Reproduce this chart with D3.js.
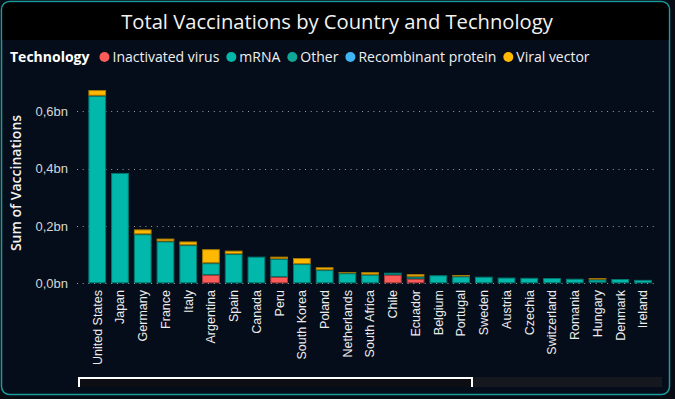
<!DOCTYPE html>
<html><head><meta charset="utf-8">
<script src="https://cdn.jsdelivr.net/npm/d3@7/dist/d3.min.js"></script>
<style>
html,body{margin:0;padding:0;background:#080c14;}
svg{display:block;font-family:"Segoe UI","Open Sans","Noto Sans",sans-serif;}
</style></head>
<body><svg id="c" width="675" height="399"></svg>
<script>
// ---- data (values in millions of doses) ----
const countries = ["United States","Japan","Germany","France","Italy","Argentina","Spain","Canada","Peru","South Korea","Poland","Netherlands","South Africa","Chile","Ecuador","Belgium","Portugal","Sweden","Austria","Czechia","Switzerland","Romania","Hungary","Denmark","Ireland"];
const technologies = ["Inactivated virus","mRNA","Other","Recombinant protein","Viral vector"];
const inactivatedVirus = [0,0,0,0,0,29,0,0,22,0,0,0,0,29,16,0,0,0,0,0,0,0,2,0,0];
const mRNA = [654,385,171,146,133,41,102,93,63,67,46,35,30,8,7,28,24,23,20,19,18.5,16,11,15,12];
const other = [0,0,0,0,0,0,0,0,0,0,0,0,0,0,0,0,0,0,0,0,0,0,0,0,0];
const recombinantProtein = [0,0,0,0,0,0,0,0,0,0,0,0,0,0,0,0,0,0,0,0,0,0,0,0,0];
const viralVector = [20,0,17,10,13,49,12,3,8,21,10,4,9,0,9,3,5,1,2,2,0,3,5,0,2];
const yTicks = [0, 0.2e9, 0.4e9, 0.6e9];
const colors = ["#FD5A5A","#01B8AA","#0FA897","#3EB6F5","#FFB900"];

const series = [inactivatedVirus, mRNA, other, recombinantProtein, viralVector];
const rows = countries.map((c,i)=>{
  const r = {country:c};
  technologies.forEach((t,k)=> r[t] = series[k][i]*1e6);
  return r;
});

const svg = d3.select("#c");
const W = 675, H = 399;

// card
svg.append("rect").attr("x",1.5).attr("y",1.5).attr("width",668).attr("height",393)
  .attr("rx",8).attr("fill","#050d1a").attr("stroke","#1b9c9c").attr("stroke-width",1.5);
svg.append("path").attr("d","M2.5,40 V10 Q2.5,2.5 10,2.5 H661 Q668.5,2.5 668.5,10 V40 Z").attr("fill","#000");

// title
const title = svg.append("text").attr("x",337).attr("y",29).attr("text-anchor","middle")
  .attr("fill","#f2f2f2").attr("font-size",20).text("Total Vaccinations by Country and Technology");
const tw = title.node().getComputedTextLength();
title.attr("font-size", 20*432/tw);

// legend
const lg = svg.append("g").attr("transform","translate(0,57)");
const lt = lg.append("text").attr("x",10).attr("y",5).attr("fill","#fff").attr("font-weight","bold")
  .attr("font-size",14).text("Technology");
let lx = 10 + lt.node().getComputedTextLength() + 10;
technologies.forEach((t,k)=>{
  lg.append("circle").attr("cx",lx+5).attr("cy",0).attr("r",5).attr("fill",colors[k]);
  const tx = lg.append("text").attr("x",lx+13).attr("y",5).attr("fill","#f0f0f0").attr("font-size",14).text(t);
  lx += 13 + tx.node().getComputedTextLength() + 7;
});

// scales
const x = d3.scaleBand().domain(countries).range([77, 663.2]).paddingInner(0.22).paddingOuter(0.5);
const y = d3.scaleLinear().domain([0, 0.7e9]).range([283.3, 82.6]);

// grid
const grid = svg.append("g");
yTicks.filter(v=>v>0).forEach(v=>{
  grid.append("line").attr("x1",77).attr("x2",658).attr("y1",Math.round(y(v))+0.5).attr("y2",Math.round(y(v))+0.5)
    .attr("stroke","#9aa0a8").attr("stroke-width",1).attr("stroke-dasharray","1,4.7");
});

// y axis labels
const yAxis = d3.axisLeft(y).tickValues(yTicks).tickSize(0).tickPadding(0)
  .tickFormat(v=> (v/1e9).toFixed(1).replace(".",",")+"bn");
const ya = svg.append("g").attr("transform","translate(68,0)").call(yAxis);
ya.select(".domain").remove();
ya.selectAll("text").attr("fill","#d6d6d6").attr("font-size",13).attr("font-family",null).attr("dy","0.32em");

svg.append("text").attr("transform","translate(21,183) rotate(-90)").attr("text-anchor","middle")
  .attr("fill","#f2f2f2").attr("font-size",14).attr("font-weight","600").text("Sum of Vaccinations");

// bars
const stack = d3.stack().keys(technologies)(rows);
svg.append("g").selectAll("g").data(stack).join("g")
  .attr("fill",(d,i)=>colors[i])
  .attr("stroke",(d,i)=>d3.color(colors[i]).darker(1.2))
  .selectAll("rect").data(d=>d.filter(s=>s[1]-s[0]>0)).join("rect")
  .attr("x",d=>x(d.data.country)+0.5).attr("width",x.bandwidth()-1)
  .attr("y",d=>y(d[1])+0.5).attr("height",d=>Math.max(0,y(d[0])-y(d[1])-1))
  .attr("stroke-width",1);

// zero grid line on top
svg.append("line").attr("x1",77).attr("x2",658).attr("y1",Math.round(y(0))+0.5).attr("y2",Math.round(y(0))+0.5)
  .attr("stroke","#9aa0a8").attr("stroke-width",1).attr("stroke-dasharray","1,4.7");

// x axis labels
const xAxis = d3.axisBottom(x).tickSize(0).tickPadding(0);
const xa = svg.append("g").attr("transform","translate(0,290)").call(xAxis);
xa.select(".domain").remove();
xa.selectAll("text").attr("fill","#ececec").attr("font-size",12.5).attr("font-family",null)
  .attr("transform","rotate(-90)").attr("text-anchor","end").attr("x",0).attr("y",0).attr("dy","0.35em").attr("dx",0);

// scrollbar
svg.append("rect").attr("x",78).attr("y",377).attr("width",584).attr("height",10).attr("fill","#15181e");
svg.append("rect").attr("x",79).attr("y",378).attr("width",393).attr("height",9).attr("fill","#0c0e13");
svg.append("path").attr("d","M79,387 V378 H472 V387").attr("fill","none").attr("stroke","#ffffff").attr("stroke-width",2);
</script></body></html>
